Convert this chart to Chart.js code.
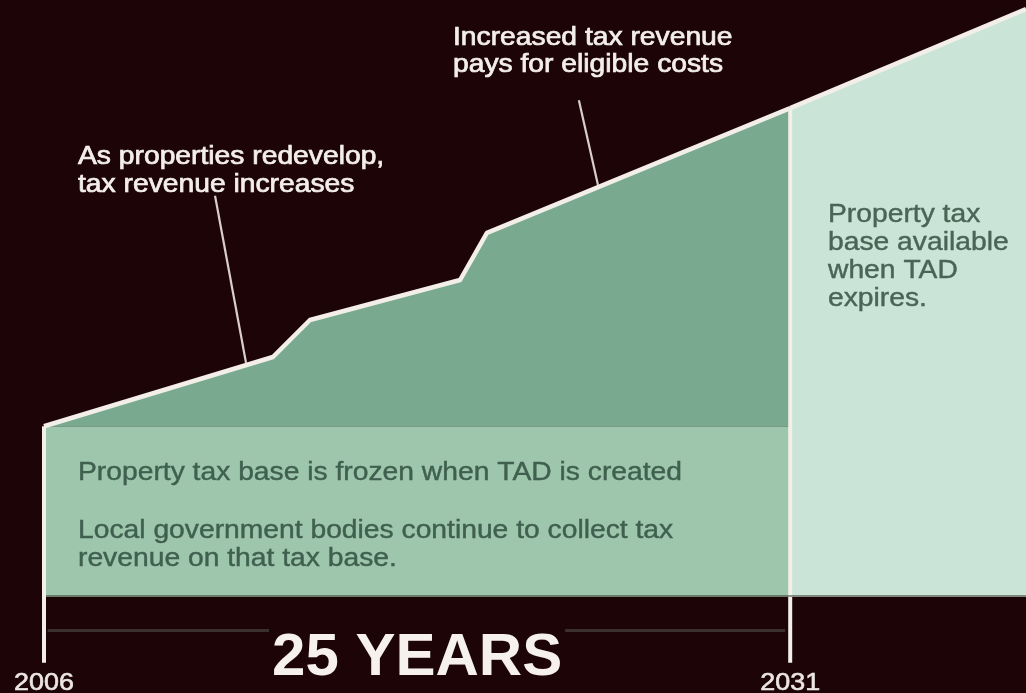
<!DOCTYPE html>
<html>
<head>
<meta charset="utf-8">
<script src="https://cdn.jsdelivr.net/npm/chart.js@4/dist/chart.umd.min.js"></script>
<style>
  html, body { margin: 0; padding: 0; background: #1d0406; }
  #wrap { width: 1026px; height: 693px; position: relative; }
</style>
</head>
<body>
<div id="wrap"><canvas id="chart"></canvas></div>
<script>
// TAD timeline, years on x, relative tax base on y
const startYear = 2006
const endYear = 2031
const lastYear = 2038.9

// revenue line while the TAD runs
const tadYears = [2006, 2013.67, 2014.91, 2019.94, 2020.84, 2031]
const tadRevenue = [28.6, 40.2, 46.4, 53.1, 61.0, 81.9]

// revenue after the TAD expires
const afterYears = [2031, 2038.9]
const afterRevenue = [81.9, 98.5]

// frozen base
const frozenBase = 28.6

const tickYears = [2006, 2031]

const frozenText = [
  'Property tax base is frozen when TAD is created',
  '',
  'Local government bodies continue to collect tax',
  'revenue on that tax base.',
]
const expiresText = ['Property tax', 'base available', 'when TAD', 'expires.']

const notes = [
  { lines: ['As properties redevelop,', 'tax revenue increases'], from: [2011.73, 67.2], to: [2012.77, 39.2] },
  { lines: ['Increased tax revenue', 'pays for eligible costs'], from: [2023.92, 83.2], to: [2024.56, 69.0] },
]

const BG = '#1d0406'
const WHITE = '#f3efe8'
const FONT = '"Liberation Sans", Arial, sans-serif'
const SX = 1.13 // the source art is stretched wide

const pts = (xs, ys) => xs.map((x, i) => ({ x: x, y: ys[i] }))

function text(ctx, str, x, y, size, color, opts = {}) {
  ctx.save()
  ctx.font = (opts.bold ? 'bold ' : '') + size + 'px ' + FONT
  ctx.fillStyle = color
  ctx.strokeStyle = color
  ctx.lineWidth = opts.weight || 0
  ctx.textBaseline = 'alphabetic'
  const sx = opts.sx || SX
  const w = ctx.measureText(str).width * sx
  let left = x
  if (opts.align === 'center') left = x - w / 2
  ctx.translate(left, y)
  ctx.scale(sx, 1)
  ctx.fillText(str, 0, 0)
  if (opts.weight) ctx.strokeText(str, 0, 0)
  ctx.restore()
  return { left: left, width: w }
}

const decor = {
  id: 'decor',
  beforeDraw(chart) {
    const ctx = chart.ctx
    ctx.save()
    ctx.fillStyle = BG
    ctx.fillRect(0, 0, chart.width, chart.height)
    ctx.restore()
  },
  afterDatasetsDraw(chart) {
    // thin shade along the bottom of the areas
    const ctx = chart.ctx
    const a = chart.chartArea
    ctx.save()
    ctx.fillStyle = 'rgba(60,60,50,0.55)'
    ctx.fillRect(chart.scales.x.getPixelForValue(startYear) + 2, a.bottom - 2, a.right, 2)
    ctx.restore()
  },
  afterDraw(chart) {
    const ctx = chart.ctx
    const xs = chart.scales.x
    const ys = chart.scales.y

    // pointer lines + notes
    ctx.save()
    ctx.strokeStyle = '#d8cecb'
    ctx.lineWidth = 2.2
    notes.forEach((n) => {
      ctx.beginPath()
      ctx.moveTo(xs.getPixelForValue(n.from[0]), ys.getPixelForValue(n.from[1]))
      ctx.lineTo(xs.getPixelForValue(n.to[0]), ys.getPixelForValue(n.to[1]))
      ctx.stroke()
    })
    ctx.restore()
    notes[0].lines.forEach((l, i) => text(ctx, l, 78, 164 + i * 28, 25, WHITE, { weight: 0.7 }))
    notes[1].lines.forEach((l, i) => text(ctx, l, 453, 45 + i * 27, 25, WHITE, { weight: 0.7 }))

    // text inside the frozen base
    const fb = [480, 0, 538, 566]
    frozenText.forEach((l, i) => { if (l) text(ctx, l, 78, fb[i], 25, '#40604f', { weight: 0.4 }) })

    // text in the expired area
    expiresText.forEach((l, i) => text(ctx, l, 828, 222 + i * 28, 25, '#4a6557', { weight: 0.4 }))

    // 25 YEARS, with a gap cut in the span line
    ctx.save()
    ctx.font = 'bold 60px ' + FONT
    const w = ctx.measureText('25 YEARS').width
    const cx = (xs.getPixelForValue(startYear) + xs.getPixelForValue(endYear)) / 2
    ctx.fillStyle = BG
    ctx.fillRect(cx - w / 2 - 3, 622, w + 6, 20)
    ctx.restore()
    text(ctx, '25 YEARS', cx, 675, 60, '#f6f1ec', { bold: true, sx: 1, align: 'center' })

    // year ticks
    tickYears.forEach((yr) => {
      text(ctx, String(yr), xs.getPixelForValue(yr), 690, 24, '#ece6e2', { align: 'center', sx: 1.12, weight: 0.6 })
    })
  },
}

new Chart(document.getElementById('chart'), {
  type: 'line',
  data: {
    datasets: [
      {
        label: 'start',
        data: pts([startYear, startYear], [frozenBase, -11]),
        borderColor: WHITE,
        borderWidth: 4,
        borderCapStyle: 'butt',
        clip: false,
        fill: false,
      },
      {
        label: 'end',
        data: pts([endYear, endYear], [tadRevenue[tadRevenue.length - 1], -11]),
        borderColor: WHITE,
        borderWidth: 4,
        borderCapStyle: 'butt',
        clip: false,
        fill: false,
      },
      {
        label: 'Tax revenue',
        data: pts(tadYears, tadRevenue),
        borderColor: WHITE,
        borderWidth: 4.5,
        borderJoinStyle: 'round',
        backgroundColor: '#79aa8f',
        fill: { value: frozenBase },
        clip: 6,
      },
      {
        label: 'After TAD',
        data: pts(afterYears, afterRevenue),
        borderColor: WHITE,
        borderWidth: 4.5,
        backgroundColor: '#cae4d7',
        fill: 'origin',
        clip: 6,
      },
      {
        label: 'Frozen base',
        data: pts([startYear, endYear], [frozenBase, frozenBase]),
        borderWidth: 0,
        borderColor: 'rgba(0,0,0,0)',
        backgroundColor: '#9dc6ac',
        fill: 'origin',
      },
      {
        label: 'span',
        data: pts([startYear + 0.12, endYear - 0.17], [-5.6, -5.6]),
        borderColor: '#3b302f',
        borderWidth: 3,
        borderCapStyle: 'butt',
        clip: false,
        fill: false,
      },
    ],
  },
  options: {
    responsive: true,
    maintainAspectRatio: false,
    animation: false,
    events: [],
    layout: { padding: { left: 44, right: 0, top: 0, bottom: 96 } },
    elements: { point: { radius: 0 }, line: { tension: 0 } },
    scales: {
      x: { type: 'linear', min: startYear, max: lastYear, display: false },
      y: { type: 'linear', min: 0, max: 100, display: false },
    },
    plugins: {
      legend: { display: false },
      tooltip: { enabled: false },
      filler: { propagate: false },
    },
  },
  plugins: [decor],
})
</script>
</body>
</html>
